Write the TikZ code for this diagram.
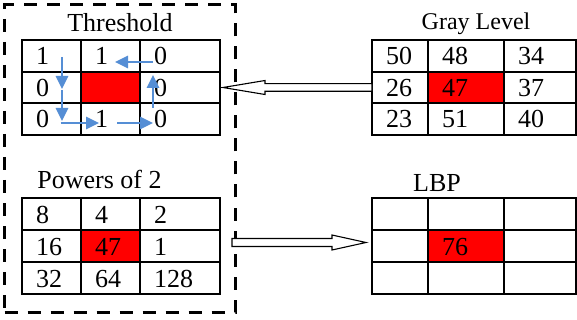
\documentclass[tikz,border=0pt]{standalone}
\usepackage{fontspec}
\setmainfont{Liberation Serif}
\usetikzlibrary{arrows.meta,calc}
\definecolor{arrowblue}{RGB}{85,142,213}
\tikzset{
  cellbox/.style={draw=black, line width=1.8pt, outer sep=0pt, inner sep=0pt},
  num/.style={inner sep=0pt, outer sep=0pt, font=\fontsize{26}{30}\selectfont},
  ttl/.style={inner sep=0pt, outer sep=0pt, anchor=base, font=\fontsize{26}{30}\selectfont},
  barrow/.style={draw=arrowblue, line width=2.6pt, -{Triangle[length=13pt,width=12pt]}},
  hollow/.style={draw=black, fill=white, line width=1.1pt, line join=miter},
  groupbox/.style={draw=black, line width=3pt, dash pattern=on 13pt off 10pt, inner sep=0pt, outer sep=0pt}
}
\newcommand\mkcell[7]{%
  \pgfmathsetmacro\mkcw{#3-#2}\pgfmathsetmacro\mkch{#5-#4}%
  \node[cellbox, fill=#7, minimum width=\mkcw pt, minimum height=\mkch pt] (#1) at ({(#2+#3)/2},{(#4+#5)/2}) {};
  \node[num, anchor=base west] (#1t) at ([xshift=14pt,yshift=-25pt]#1.north west) {#6};}
\begin{document}
\begin{tikzpicture}[x=1pt,y=-1pt]
\useasboundingbox (0,0) rectangle (577,320);
% group box
\node[groupbox, minimum width=230.5pt, minimum height=307pt] (grp) at (119.75,158.5) {};
% titles
\node[ttl] (tthr) at (120,32) {Threshold};
\node[ttl, font=\fontsize{24}{28}\selectfont] (tgray) at (476,30) {Gray Level};
\node[ttl] (tpow) at (99.5,189) {Powers of 2};
\node[ttl] (tlbp) at (437,192) {LBP};
% Threshold table
\mkcell{t11}{22}{81}{40}{72}{1}{white}
\mkcell{t12}{81}{140}{40}{72}{1}{white}
\mkcell{t13}{140}{220}{40}{72}{0}{white}
\mkcell{t21}{22}{81}{72}{103}{0}{white}
\mkcell{t22}{81}{140}{72}{103}{}{red}
\mkcell{t23}{140}{220}{72}{103}{0}{white}
\mkcell{t31}{22}{81}{103}{135}{0}{white}
\mkcell{t32}{81}{140}{103}{135}{1}{white}
\mkcell{t33}{140}{220}{103}{135}{0}{white}
% Powers table
\mkcell{p11}{22}{81}{198}{230}{8}{white}
\mkcell{p12}{81}{140}{198}{230}{4}{white}
\mkcell{p13}{140}{220}{198}{230}{2}{white}
\mkcell{p21}{22}{81}{230}{262}{16}{white}
\mkcell{p22}{81}{140}{230}{262}{47}{red}
\mkcell{p23}{140}{220}{230}{262}{1}{white}
\mkcell{p31}{22}{81}{262}{294}{32}{white}
\mkcell{p32}{81}{140}{262}{294}{64}{white}
\mkcell{p33}{140}{220}{262}{294}{128}{white}
% Gray level table
\mkcell{g11}{372}{428}{40}{72}{50}{white}
\mkcell{g12}{428}{504}{40}{72}{48}{white}
\mkcell{g13}{504}{576}{40}{72}{34}{white}
\mkcell{g21}{372}{428}{72}{103}{26}{white}
\mkcell{g22}{428}{504}{72}{103}{47}{red}
\mkcell{g23}{504}{576}{72}{103}{37}{white}
\mkcell{g31}{372}{428}{103}{135}{23}{white}
\mkcell{g32}{428}{504}{103}{135}{51}{white}
\mkcell{g33}{504}{576}{103}{135}{40}{white}
% LBP table
\mkcell{l11}{372}{428}{198}{230}{}{white}
\mkcell{l12}{428}{504}{198}{230}{}{white}
\mkcell{l13}{504}{576}{198}{230}{}{white}
\mkcell{l21}{372}{428}{230}{262}{}{white}
\mkcell{l22}{428}{504}{230}{262}{76}{red}
\mkcell{l23}{504}{576}{230}{262}{}{white}
\mkcell{l31}{372}{428}{262}{294}{}{white}
\mkcell{l32}{428}{504}{262}{294}{}{white}
\mkcell{l33}{504}{576}{262}{294}{}{white}
% blue arrows (threshold order)
\coordinate (b1s) at (62,57);  \coordinate (b1e) at (62,89);
\coordinate (b2s) at (62,90);  \coordinate (b2e) at (62,121);
\coordinate (b3s) at (60.7,123); \coordinate (b3e) at (99,123);
\coordinate (b4s) at (117,123); \coordinate (b4e) at (153,123);
\coordinate (b5s) at (153,108); \coordinate (b5e) at (153,75);
\coordinate (b6s) at (153,62); \coordinate (b6e) at (115,62);
\draw[barrow] (b1s) -- (b1e);
\draw[barrow] (b2s) -- (b2e);
\draw[barrow] (b3s) -- (b3e);
\draw[barrow] (b4s) -- (b4e);
\draw[barrow] (b5s) -- (b5e);
\draw[barrow] (b6s) -- (b6e);
% hollow arrow: gray level -> threshold
\coordinate (h1s) at (g21.west);
\coordinate (h1e) at (223,87.5);
\draw[hollow] ($(h1s)+(0,-3.8)$) -- ($(h1e)+(42,-3.8)$) -- ($(h1e)+(42,-7)$) -- (h1e)
  -- ($(h1e)+(42,7)$) -- ($(h1e)+(42,3.8)$) -- ($(h1s)+(0,3.8)$) -- cycle;
% hollow arrow: powers -> LBP
\coordinate (h2s) at (232,242.5);
\coordinate (h2e) at (366,242.5);
\draw[hollow] ($(h2s)+(0,-4)$) -- ($(h2e)+(-34,-4)$) -- ($(h2e)+(-34,-7.5)$) -- (h2e)
  -- ($(h2e)+(-34,7.5)$) -- ($(h2e)+(-34,4)$) -- ($(h2s)+(0,4)$) -- cycle;
\end{tikzpicture}
\end{document}
